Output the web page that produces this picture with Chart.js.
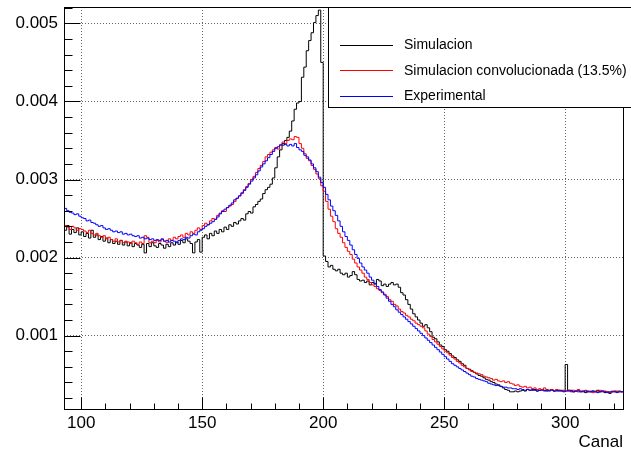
<!DOCTYPE html>
<html>
<head>
<meta charset="utf-8">
<title>Canal</title>
<script src="https://cdn.jsdelivr.net/npm/chart.js@4/dist/chart.umd.min.js"></script>
<style>
      body { margin: 0; background: #fff; }
      canvas { display: block; }
</style>
</head>
<body>
<canvas id="histo_chart" width="631" height="456"></canvas>
<script>
// bins are one channel wide, first bin starts at channel 93
const first_channel = 93;
const x_ticks = [100, 150, 200, 250, 300];
const y_ticks = [0.001, 0.002, 0.003, 0.004, 0.005];
const series_labels = ['Simulacion', 'Simulacion convolucionada (13.5%)', 'Experimental'];

const simulacion = [
      0.00235, 0.00241, 0.00230, 0.00236, 0.00232, 0.00238, 0.00229,
      0.00233, 0.00227, 0.00231, 0.00225, 0.00235, 0.00226, 0.00229, 0.00223, 0.00227, 0.00221,
      0.00225, 0.00219, 0.00223, 0.00218, 0.00221, 0.00217, 0.00222, 0.00216, 0.00220, 0.00215,
      0.00219, 0.00214, 0.00218, 0.00216, 0.00213, 0.00217, 0.00206, 0.00218, 0.00214, 0.00219,
      0.00215, 0.00213, 0.00218, 0.00216, 0.00212, 0.00217, 0.00214, 0.00219, 0.00216, 0.00220,
      0.00217, 0.00222, 0.00219, 0.00224, 0.00221, 0.00218, 0.00206, 0.00220, 0.00223, 0.00207,
      0.00226, 0.00229, 0.00224, 0.00231, 0.00228, 0.00234, 0.00231, 0.00236, 0.00233, 0.00239,
      0.00236, 0.00242, 0.00240, 0.00245, 0.00243, 0.00247, 0.00250, 0.00248, 0.00256, 0.00259,
      0.00257, 0.00265, 0.00268, 0.00272, 0.00275, 0.00282, 0.00287, 0.00290, 0.00294, 0.00302,
      0.00315, 0.00329, 0.00338, 0.00344, 0.00350, 0.00354, 0.00362, 0.00375, 0.00390, 0.00398,
      0.00400, 0.00431, 0.00444, 0.00465, 0.00478, 0.00488, 0.00501, 0.00510, 0.00517, 0.00450,
      0.00202, 0.00195, 0.00188, 0.00190, 0.00185, 0.00183, 0.00185, 0.00180, 0.00178, 0.00180,
      0.00175, 0.00177, 0.00182, 0.00178, 0.00172, 0.00170, 0.00171, 0.00168, 0.00170, 0.00165,
      0.00168, 0.00166, 0.00172, 0.00170, 0.00164, 0.00166, 0.00163, 0.00166, 0.00168, 0.00165,
      0.00166, 0.00162, 0.00155, 0.00152, 0.00146, 0.00140, 0.00134, 0.00128, 0.00124, 0.00120,
      0.00116, 0.00112, 0.00114, 0.00110, 0.00105, 0.00098, 0.00096, 0.00092, 0.00088, 0.00086,
      0.00082, 0.00080, 0.00077, 0.00074, 0.00072, 0.00069, 0.00067, 0.00064, 0.00062, 0.00058,
      0.00057, 0.00055, 0.00053, 0.00051, 0.00049, 0.00048, 0.00046, 0.00044, 0.00043, 0.00041,
      0.00040, 0.00038, 0.00037, 0.00035, 0.00033, 0.00031, 0.00030, 0.00028, 0.00028, 0.00029,
      0.00028, 0.00029, 0.00030, 0.00029, 0.00031, 0.00030, 0.00030, 0.00031, 0.00029, 0.00030,
      0.00031, 0.00030, 0.00029, 0.00030, 0.00031, 0.00029, 0.00030, 0.00029, 0.00030, 0.00029,
      0.00063, 0.00029, 0.00030, 0.00028, 0.00029, 0.00030, 0.00028, 0.00029, 0.00027, 0.00029,
      0.00028, 0.00029, 0.00028, 0.00030, 0.00028, 0.00029, 0.00027, 0.00028, 0.00026, 0.00028,
      0.00029, 0.00028, 0.00029, 0.00028, 0.00028
];

const convolucionada = [
      0.00241, 0.00239, 0.00236, 0.00240, 0.00238, 0.00235, 0.00237,
      0.00236, 0.00234, 0.00232, 0.00235, 0.00231, 0.00229, 0.00231, 0.00228, 0.00226, 0.00228,
      0.00224, 0.00226, 0.00223, 0.00221, 0.00224, 0.00220, 0.00222, 0.00219, 0.00221, 0.00220,
      0.00218, 0.00221, 0.00219, 0.00217, 0.00220, 0.00218, 0.00228, 0.00226, 0.00219, 0.00221,
      0.00219, 0.00222, 0.00220, 0.00223, 0.00221, 0.00219, 0.00224, 0.00222, 0.00226, 0.00224,
      0.00227, 0.00229, 0.00226, 0.00231, 0.00229, 0.00233, 0.00231, 0.00235, 0.00238, 0.00236,
      0.00241, 0.00244, 0.00242, 0.00247, 0.00250, 0.00249, 0.00254, 0.00257, 0.00260, 0.00259,
      0.00264, 0.00266, 0.00268, 0.00272, 0.00276, 0.00279, 0.00282, 0.00287, 0.00291, 0.00295,
      0.00300, 0.00304, 0.00309, 0.00314, 0.00318, 0.00323, 0.00329, 0.00332, 0.00335, 0.00338,
      0.00341, 0.00339, 0.00345, 0.00348, 0.00346, 0.00350, 0.00352, 0.00351, 0.00355, 0.00354,
      0.00346, 0.00340, 0.00333, 0.00327, 0.00324, 0.00318, 0.00313, 0.00307, 0.00301, 0.00292,
      0.00285, 0.00272, 0.00262, 0.00253, 0.00246, 0.00237, 0.00231, 0.00226, 0.00219, 0.00213,
      0.00208, 0.00204, 0.00198, 0.00193, 0.00188, 0.00184, 0.00180, 0.00175, 0.00172, 0.00168,
      0.00165, 0.00163, 0.00160, 0.00158, 0.00155, 0.00153, 0.00150, 0.00146, 0.00144, 0.00140,
      0.00138, 0.00134, 0.00131, 0.00129, 0.00126, 0.00124, 0.00121, 0.00119, 0.00116, 0.00114,
      0.00112, 0.00110, 0.00106, 0.00102, 0.00099, 0.00095, 0.00092, 0.00089, 0.00086, 0.00083,
      0.00080, 0.00078, 0.00075, 0.00072, 0.00070, 0.00067, 0.00065, 0.00062, 0.00060, 0.00058,
      0.00056, 0.00054, 0.00053, 0.00052, 0.00051, 0.00050, 0.00048, 0.00047, 0.00046, 0.00045,
      0.00043, 0.00044, 0.00042, 0.00041, 0.00042, 0.00040, 0.00041, 0.00039, 0.00038, 0.00036,
      0.00037, 0.00035, 0.00034, 0.00035, 0.00033, 0.00034, 0.00032, 0.00033, 0.00031, 0.00032,
      0.00031, 0.00033, 0.00031, 0.00030, 0.00031, 0.00029, 0.00031, 0.00030, 0.00029, 0.00030,
      0.00029, 0.00030, 0.00028, 0.00030, 0.00029, 0.00031, 0.00028, 0.00029, 0.00030, 0.00028,
      0.00029, 0.00027, 0.00029, 0.00028, 0.00030, 0.00028, 0.00029, 0.00028, 0.00027, 0.00029,
      0.00028, 0.00029, 0.00028, 0.00028, 0.00028
];

const experimental = [
      0.00263, 0.00260, 0.00258, 0.00257, 0.00255, 0.00256, 0.00253,
      0.00251, 0.00250, 0.00247, 0.00248, 0.00245, 0.00244, 0.00242, 0.00240, 0.00241, 0.00238,
      0.00236, 0.00237, 0.00235, 0.00233, 0.00234, 0.00232, 0.00233, 0.00230, 0.00231, 0.00229,
      0.00230, 0.00228, 0.00227, 0.00228, 0.00225, 0.00226, 0.00224, 0.00225, 0.00223, 0.00224,
      0.00222, 0.00223, 0.00222, 0.00224, 0.00221, 0.00222, 0.00220, 0.00222, 0.00221, 0.00219,
      0.00222, 0.00224, 0.00223, 0.00226, 0.00225, 0.00228, 0.00230, 0.00229, 0.00233, 0.00235,
      0.00237, 0.00240, 0.00242, 0.00244, 0.00246, 0.00249, 0.00252, 0.00256, 0.00259, 0.00262,
      0.00264, 0.00267, 0.00270, 0.00274, 0.00276, 0.00279, 0.00283, 0.00286, 0.00290, 0.00294,
      0.00298, 0.00302, 0.00306, 0.00311, 0.00316, 0.00320, 0.00324, 0.00328, 0.00332, 0.00336,
      0.00340, 0.00342, 0.00344, 0.00346, 0.00345, 0.00343, 0.00345, 0.00343, 0.00346, 0.00341,
      0.00338, 0.00336, 0.00331, 0.00329, 0.00325, 0.00320, 0.00315, 0.00310, 0.00303, 0.00296,
      0.00290, 0.00281, 0.00274, 0.00266, 0.00260, 0.00254, 0.00247, 0.00240, 0.00233, 0.00227,
      0.00222, 0.00216, 0.00210, 0.00204, 0.00199, 0.00193, 0.00188, 0.00184, 0.00180, 0.00175,
      0.00171, 0.00167, 0.00163, 0.00159, 0.00156, 0.00152, 0.00148, 0.00144, 0.00140, 0.00137,
      0.00133, 0.00130, 0.00127, 0.00124, 0.00121, 0.00118, 0.00115, 0.00112, 0.00109, 0.00106,
      0.00103, 0.00100, 0.00097, 0.00094, 0.00091, 0.00088, 0.00085, 0.00082, 0.00079, 0.00076,
      0.00073, 0.00070, 0.00067, 0.00064, 0.00062, 0.00060, 0.00058, 0.00056, 0.00054, 0.00052,
      0.00050, 0.00048, 0.00047, 0.00045, 0.00044, 0.00043, 0.00042, 0.00041, 0.00039, 0.00038,
      0.00037, 0.00036, 0.00036, 0.00035, 0.00034, 0.00034, 0.00033, 0.00033, 0.00032, 0.00032,
      0.00031, 0.00032, 0.00031, 0.00030, 0.00031, 0.00030, 0.00031, 0.00030, 0.00029, 0.00030,
      0.00030, 0.00029, 0.00030, 0.00029, 0.00030, 0.00029, 0.00029, 0.00030, 0.00029, 0.00028,
      0.00029, 0.00030, 0.00029, 0.00028, 0.00029, 0.00028, 0.00029, 0.00028, 0.00029, 0.00028,
      0.00028, 0.00029, 0.00028, 0.00027, 0.00028, 0.00029, 0.00028, 0.00027, 0.00028, 0.00028,
      0.00028, 0.00027, 0.00028, 0.00028, 0.00028
];

const font_family = "'Liberation Sans', Arial, Helvetica, sans-serif";

// histogram: one point per bin edge, the last bin is closed by an extra point
function toSteps(values)
{
      const points = values.map((v, i) => ({ x: first_channel + i, y: v }));
      points.push({ x: first_channel + values.length, y: values[values.length - 1] });
      return points;
}

// ROOT-like frame: box, ticks drawn inside, legend box top right
const root_frame = {
      id: 'root_frame',
      afterDatasetsDraw(chart)
      {
            const ctx = chart.ctx;
            const area = chart.chartArea;
            const xs = chart.scales.x;
            const ys = chart.scales.y;
            const l = Math.round(area.left) + 0.5;
            const b = Math.round(area.bottom) + 0.5;

            ctx.save();
            ctx.strokeStyle = '#000';
            ctx.lineWidth = 1;
            ctx.beginPath();
            for (let v = Math.ceil(xs.min / 10) * 10; v <= xs.max; v += 10)
            {
                  const px = Math.round(xs.getPixelForValue(v)) + 0.5;
                  const len = x_ticks.includes(v) ? 12 : 6;
                  ctx.moveTo(px, b);
                  ctx.lineTo(px, b - len);
            }
            for (let k = Math.ceil(ys.min / 0.0002); k * 0.0002 <= ys.max; k++)
            {
                  const py = Math.round(ys.getPixelForValue(k * 0.0002)) + 0.5;
                  const len = k % 5 === 0 ? 16 : 8;
                  ctx.moveTo(l, py);
                  ctx.lineTo(l + len, py);
            }
            ctx.stroke();
            ctx.strokeRect(l, Math.round(area.top) + 0.5,
                  Math.round(area.right) - Math.round(area.left), Math.round(area.bottom) - Math.round(area.top));

            // legend, its right side runs past the canvas edge
            const box_left = 328.5, box_top = Math.round(area.top) + 0.5, box_bottom = 107.5;
            ctx.fillStyle = '#fff';
            ctx.fillRect(box_left, box_top, 320, box_bottom - box_top);
            ctx.strokeRect(box_left, box_top, 320, box_bottom - box_top);
            ctx.font = '14px ' + font_family;
            ctx.textBaseline = 'middle';
            ctx.textAlign = 'left';
            chart.data.datasets.forEach((ds, i) =>
            {
                  const row = 44.5 + i * 25.5;
                  ctx.strokeStyle = ds.borderColor;
                  ctx.beginPath();
                  ctx.moveTo(340, Math.round(row) + 0.5);
                  ctx.lineTo(393, Math.round(row) + 0.5);
                  ctx.stroke();
                  ctx.fillStyle = '#000';
                  ctx.fillText(ds.label, 404, row + 1);
            });
            ctx.restore();
      }
};

const config_data = {
      datasets: [
            { label: series_labels[0], data: toSteps(simulacion), borderColor: '#000000', order: 2 },
            { label: series_labels[1], data: toSteps(convolucionada), borderColor: '#ff0000', order: 1 },
            { label: series_labels[2], data: toSteps(experimental), borderColor: '#0000ff', order: 0 }
      ]
};
config_data.datasets.forEach(ds =>
{
      ds.stepped = 'before';
      ds.borderWidth = 1;
      ds.pointRadius = 0;
      ds.fill = false;
});

const config = {
      type: 'line',
      data: config_data,
      options: {
            responsive: false,
            animation: false,
            devicePixelRatio: 1,
            layout: { padding: { top: 7, right: 8, left: 0, bottom: 0 } },
            scales: {
                  x: {
                        type: 'linear',
                        min: 92.9,
                        max: 323.9,
                        afterFit: (scale) =>
                        {
                              scale.height = 47;
                              scale.paddingLeft = 0;
                              scale.paddingRight = 0;
                        },
                        afterBuildTicks: (scale) => { scale.ticks = x_ticks.map(v => ({ value: v })); },
                        ticks: {
                              color: '#000',
                              padding: 4,
                              maxRotation: 0,
                              font: { family: font_family, size: 17 },
                              callback: (v) => String(v)
                        },
                        grid: { color: '#666', lineWidth: 1, drawTicks: false },
                        border: { display: false, dash: [1, 2] },
                        title: {
                              display: true,
                              text: 'Canal',
                              align: 'end',
                              color: '#000',
                              font: { family: font_family, size: 17 },
                              padding: { top: 0, bottom: 3 }
                        }
                  },
                  y: {
                        type: 'linear',
                        min: 0.00006,
                        max: 0.00521,
                        afterFit: (scale) =>
                        {
                              scale.width = 64;
                              scale.paddingTop = 0;
                              scale.paddingBottom = 0;
                        },
                        afterBuildTicks: (scale) => { scale.ticks = y_ticks.map(v => ({ value: v })); },
                        ticks: {
                              color: '#000',
                              padding: 6,
                              font: { family: font_family, size: 17 },
                              callback: (v) => v.toFixed(3)
                        },
                        grid: { color: '#666', lineWidth: 1, drawTicks: false },
                        border: { display: false, dash: [1, 2] }
                  }
            },
            plugins: {
                  legend: { display: false },
                  tooltip: { enabled: false }
            }
      },
      plugins: [root_frame]
};

new Chart(document.getElementById('histo_chart'), config);
</script>
</body>
</html>
